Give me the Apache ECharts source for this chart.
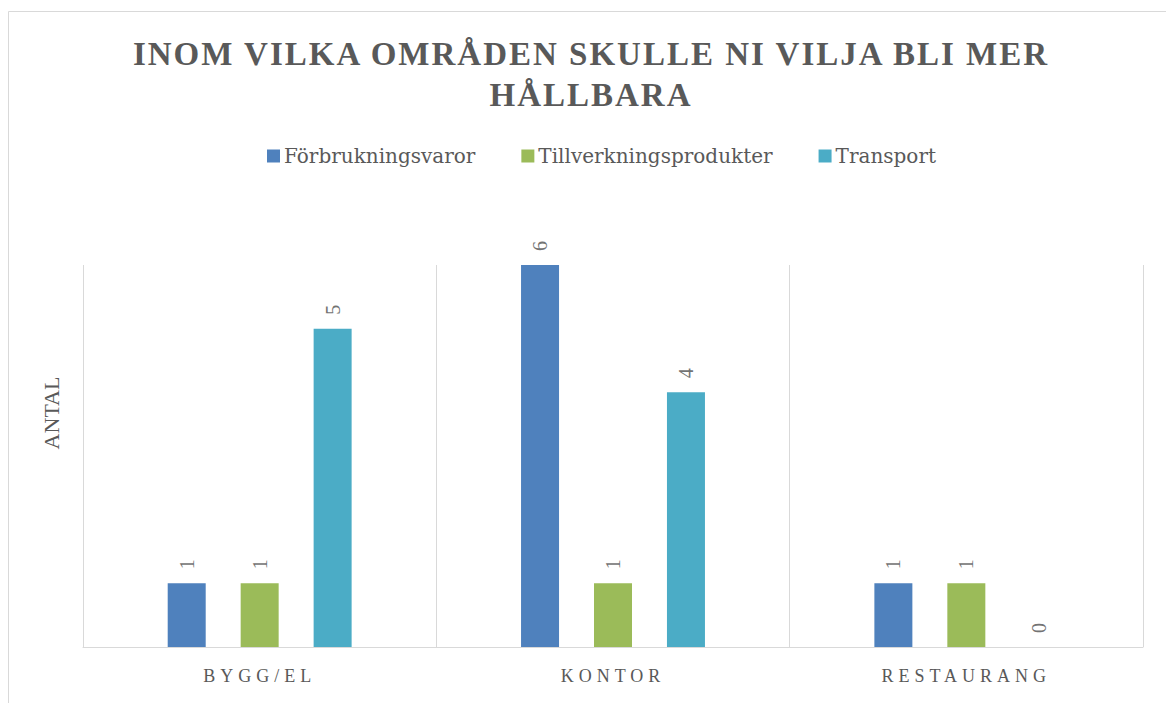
<!DOCTYPE html>
<html>
<head>
<meta charset="utf-8">
<script src="https://cdn.jsdelivr.net/npm/echarts@6/dist/echarts.min.js"></script>
<style>
  html, body { margin: 0; padding: 0; background: #fff; }
  #chart { width: 1166px; height: 703px; }
</style>
</head>
<body>
<div id="chart"></div>
<script>
  // data
  const titleText = 'INOM VILKA OMRÅDEN SKULLE NI VILJA BLI MER\nHÅLLBARA';
  const categories = ['BYGG/EL', 'KONTOR', 'RESTAURANG'];
  const seriesNames = ['Förbrukningsvaror', 'Tillverkningsprodukter', 'Transport'];
  const forbrukning = [1, 6, 1];
  const tillverkning = [1, 1, 1];
  const transport = [5, 4, 0];
  const colors = ['#4f81bd', '#9bbb59', '#4bacc6'];

  const serif = '"Liberation Serif", "DejaVu Serif", serif';
  const wideSerif = '"DejaVu Serif", "Liberation Serif", serif';

  // rotated value labels above the bars
  const barLabel = {
    show: true,
    position: 'top',
    rotate: 90,
    align: 'left',
    verticalAlign: 'middle',
    distance: 14,
    color: '#737373',
    fontFamily: serif,
    fontSize: 20
  };

  function makeSeries(name, data, color) {
    return {
      name: name,
      type: 'bar',
      data: data,
      barWidth: 38,
      barGap: '92%',
      itemStyle: {color: color},
      label: barLabel
    };
  }

  const chart = echarts.init(document.getElementById('chart'), null, {renderer: 'svg'});
  chart.setOption({
    animation: false,
    graphic: [
      {
        type: 'rect',
        z: -10,
        shape: {x: 8.5, y: 11.5, width: 1200, height: 720},
        style: {fill: 'none', stroke: '#d9d9d9', lineWidth: 1}
      },
      {
        // chart title, centred line by line
        type: 'text',
        x: 591,
        y: 33,
        style: {
          text: titleText,
          textAlign: 'center',
          textVerticalAlign: 'top',
          fontFamily: serif,
          fontWeight: 'bold',
          fontSize: 33,
          lineHeight: 41,
          fill: '#595959'
        }
      }
    ],
    legend: {
      data: seriesNames,
      top: 141,
      left: 262,
      itemWidth: 13,
      itemHeight: 13,
      itemGap: 46,
      icon: 'rect',
      textStyle: {
        fontFamily: wideSerif,
        fontSize: 20,
        color: '#595959',
        padding: [0, 0, 0, -1]
      }
    },
    grid: {left: 83, right: 23, top: 265, bottom: 56},
    xAxis: {
      type: 'category',
      data: categories,
      axisLine: {lineStyle: {color: '#d9d9d9', width: 1}},
      axisTick: {show: false},
      splitLine: {show: true, lineStyle: {color: '#d9d9d9', width: 1}},
      axisLabel: {
        margin: 20,
        fontFamily: serif,
        fontSize: 18,
        color: '#595959'
      }
    },
    yAxis: {
      type: 'value',
      min: 0,
      max: 6,
      name: 'ANTAL',
      nameLocation: 'middle',
      nameRotate: 90,
      nameGap: 21,
      nameTextStyle: {
        fontFamily: serif,
        fontSize: 22,
        color: '#595959',
        padding: [0, 0, 0, 86]
      },
      axisLine: {show: false},
      axisTick: {show: false},
      axisLabel: {show: false},
      splitLine: {show: false}
    },
    series: [
      makeSeries(seriesNames[0], forbrukning, colors[0]),
      makeSeries(seriesNames[1], tillverkning, colors[1]),
      makeSeries(seriesNames[2], transport, colors[2])
    ]
  });

  // spaced-out capitals like the original (svg text letter-spacing)
  function spaceLetters() {
    const titleLines = titleText.split('\n');
    document.querySelectorAll('#chart svg text').forEach((t) => {
      const s = t.textContent;
      if (titleLines.indexOf(s) >= 0) t.setAttribute('letter-spacing', '2px');
      else if (categories.indexOf(s) >= 0) t.setAttribute('letter-spacing', '5px');
    });
  }
  spaceLetters();
  chart.on('finished', spaceLetters);
</script>
</body>
</html>
